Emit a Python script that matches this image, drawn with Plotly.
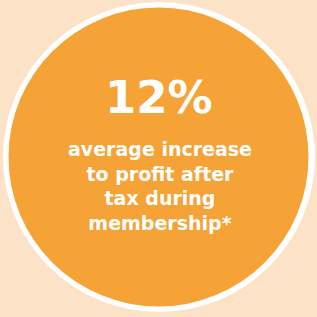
import plotly.graph_objects as go

headline_value = [12]
headline_unit = ["%"]
caption_lines = ["average increase", "to profit after", "tax during", "membership*"]

BG = "#FCE2C6"
ORANGE = "#F5A236"
W = 317

fig = go.Figure()
fig.add_trace(go.Scatter(x=[None], y=[None], showlegend=False, hoverinfo="skip"))

# white ring and orange disc
fig.add_shape(type="circle", xref="x", yref="y", x0=3, x1=315, y0=W - 312, y1=W - 2,
              fillcolor="white", line=dict(width=0), layer="below")
fig.add_shape(type="circle", xref="x", yref="y", x0=8.5, x1=308.5, y0=W - 306.5, y1=W - 7.5,
              fillcolor=ORANGE, line=dict(width=0), layer="below")

headline = f"{headline_value[0]}{headline_unit[0]}"
fig.add_annotation(x=159, y=W - 97, xref="x", yref="y", text=f"<b>{headline}</b>",
                   showarrow=False, xanchor="center", yanchor="middle",
                   font=dict(family="DejaVu Sans", size=45, color="white"))
fig.add_annotation(x=160, y=W - 186, xref="x", yref="y", text="<b>" + "<br>".join(caption_lines) + "</b>",
                   showarrow=False, xanchor="center", yanchor="middle", align="center",
                   font=dict(family="DejaVu Sans", size=19, color="white"))

fig.update_xaxes(range=[0, W], visible=False, fixedrange=True)
fig.update_yaxes(range=[0, W], visible=False, fixedrange=True)
fig.update_layout(width=W, height=W, margin=dict(l=0, r=0, t=0, b=0),
                  paper_bgcolor=BG, plot_bgcolor=BG, showlegend=False)
fig.write_html("out.html", config={"displayModeBar": False},
               post_script="document.body.style.margin='0';document.body.style.overflow='hidden';")
